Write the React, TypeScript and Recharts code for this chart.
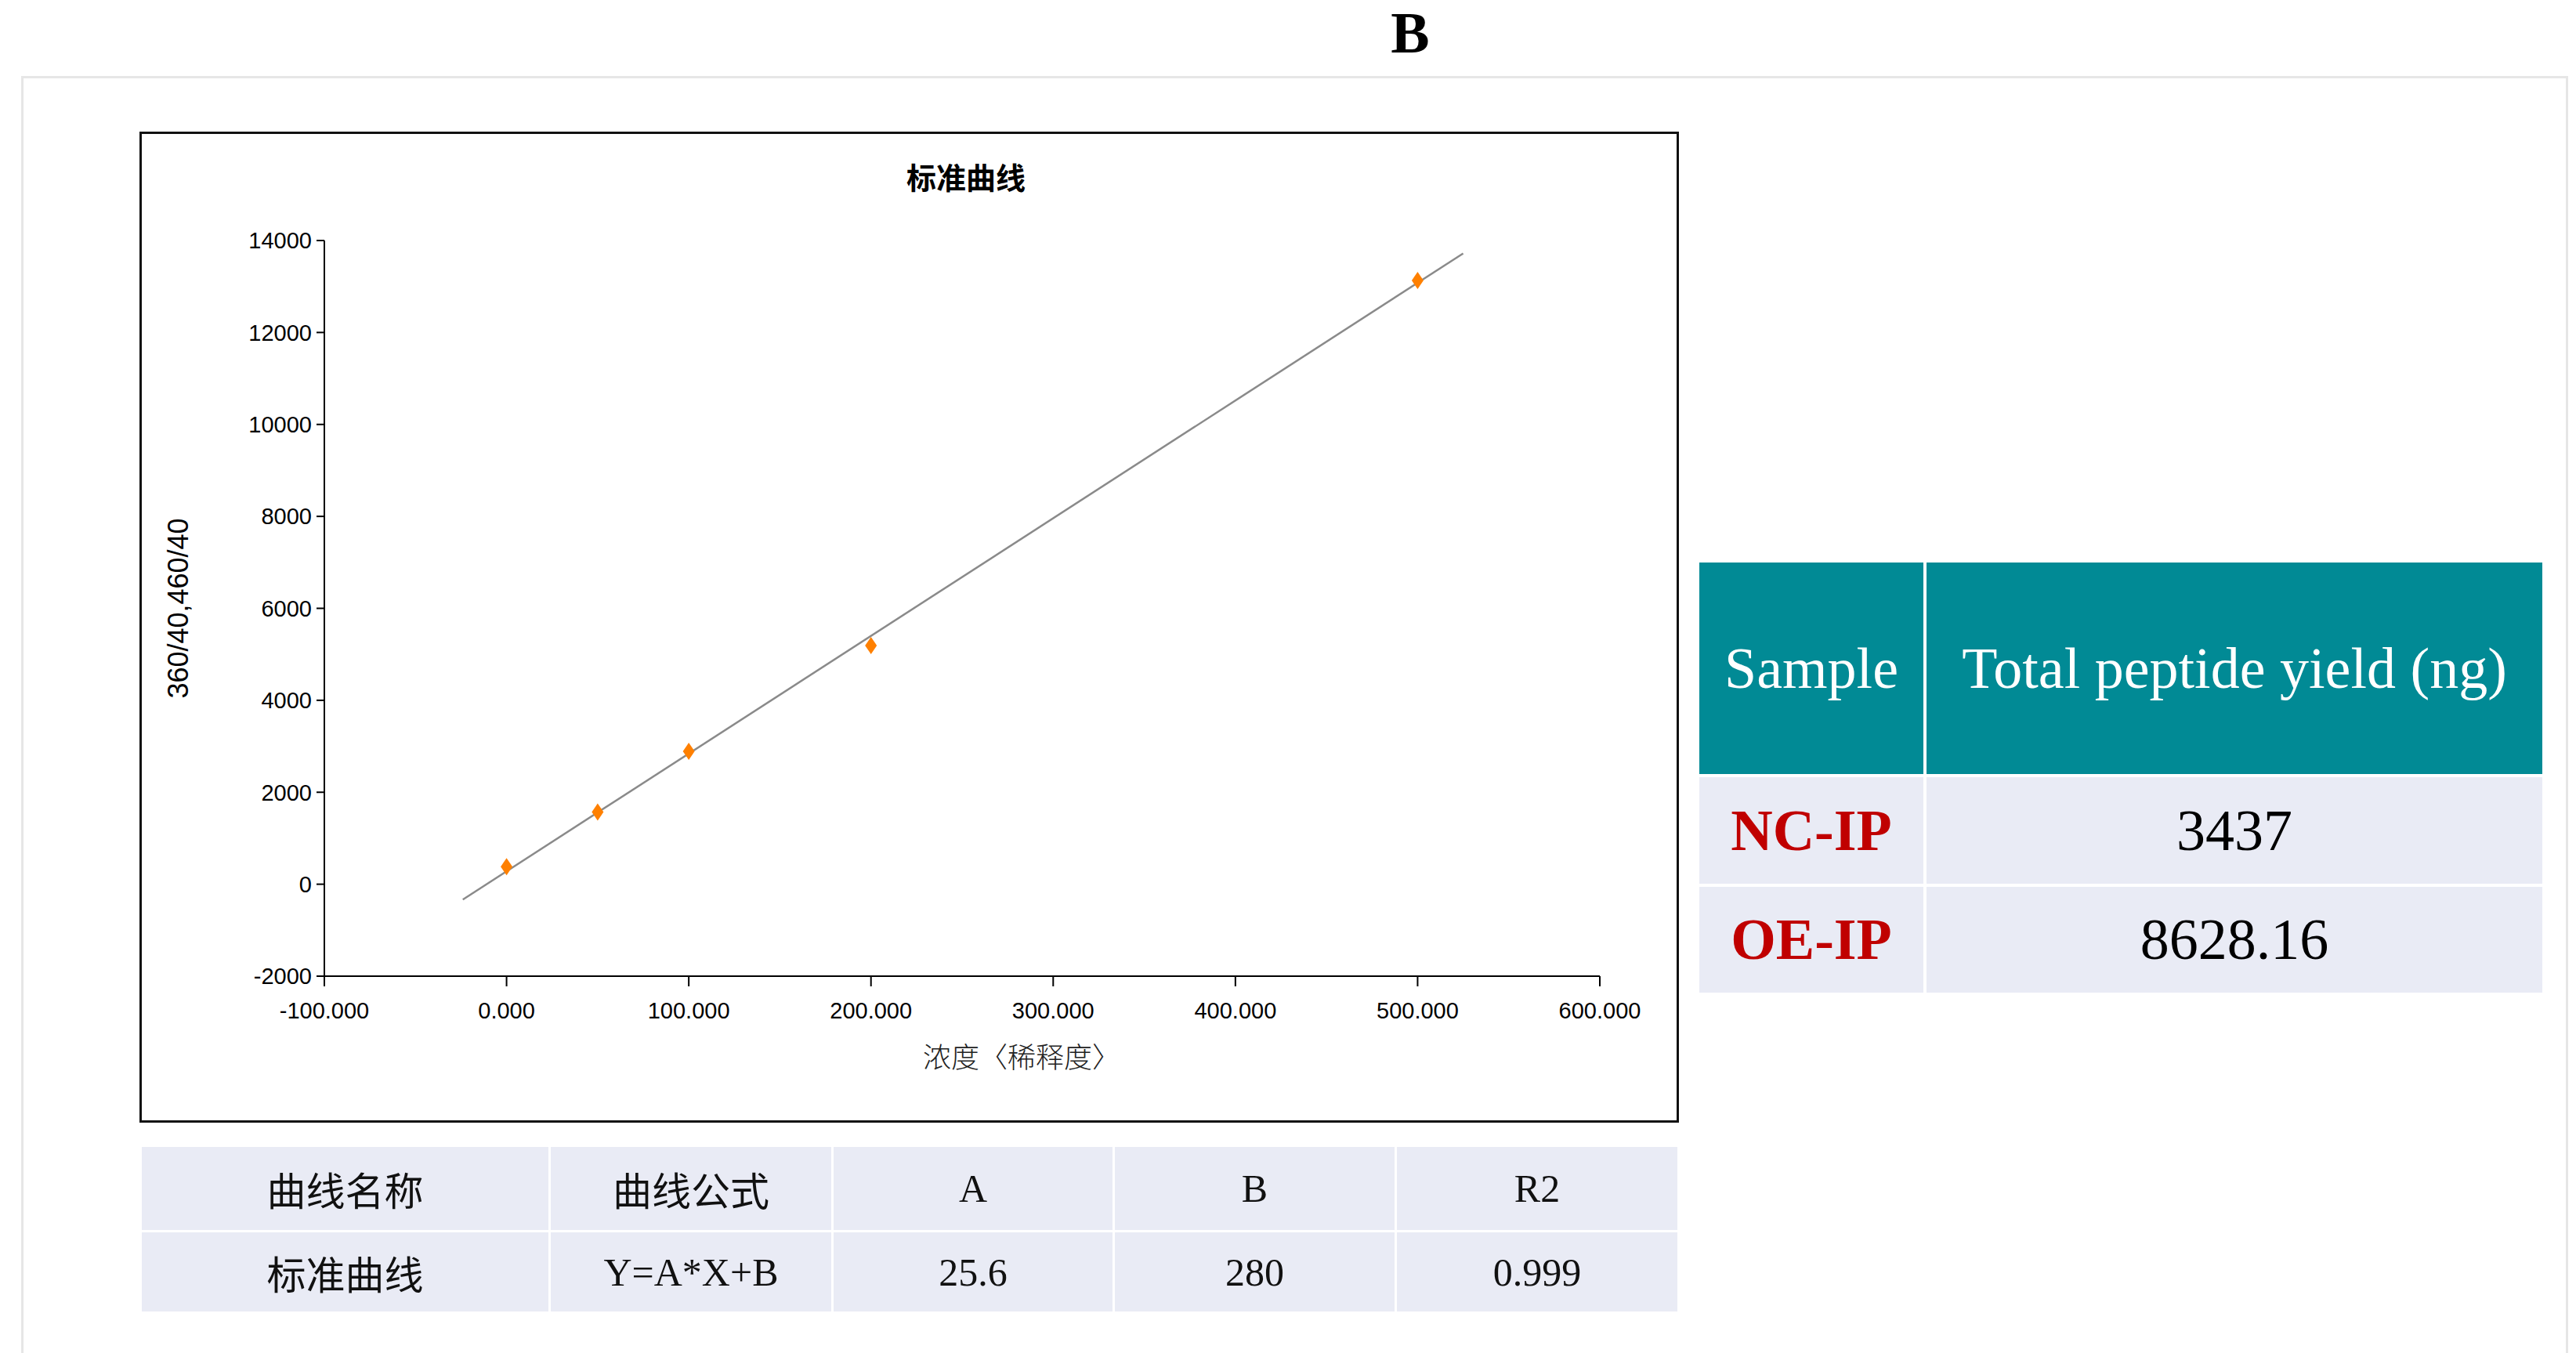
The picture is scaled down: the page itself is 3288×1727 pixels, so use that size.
import { ScatterChart, Scatter, XAxis, YAxis } from "recharts";

// standard points
const concX = [0, 50, 100, 200, 500];
const signalY = [380, 1570, 2890, 5190, 13130];

// fitted line ends (Y = 25.6 * X + 280)
const fitX = [-24, 525];
const fitY = [-334, 13720];

const xTicks = [-100, 0, 100, 200, 300, 400, 500, 600];
const yTicks = [-2000, 0, 2000, 4000, 6000, 8000, 10000, 12000, 14000];

const curveHead = ["曲线名称", "曲线公式", "A", "B", "R2"];
const curveRow = ["标准曲线", "Y=A*X+B", "25.6", "280", "0.999"];

const samples = ["NC-IP", "OE-IP"];
const yields = ["3437", "8628.16"];

const points = concX.map((x, i) => ({ x, y: signalY[i] }));
const fit = fitX.map((x, i) => ({ x, y: fitY[i] }));

const SANS = "'Liberation Sans', Arial, sans-serif";
const SERIF = "'Liberation Serif', 'Times New Roman', 'Noto Sans CJK SC', serif";
const CJK = "'Noto Sans CJK SC', sans-serif";

const NoDot = () => <g />;

const Diamond = (props: any) => {
  const { cx, cy } = props;
  return (
    <polygon
      points={`${cx},${cy - 11} ${cx + 7.5},${cy} ${cx},${cy + 11} ${cx - 7.5},${cy}`}
      fill="#ff8000"
    />
  );
};

const YLabel = (props: any) => {
  const vb = props.viewBox;
  const cx = vb.x + 49;
  const cy = vb.y + vb.height / 2;
  return (
    <text
      x={cx}
      y={cy}
      transform={`rotate(-90 ${cx} ${cy})`}
      textAnchor="middle"
      dominantBaseline="central"
      fontFamily={SANS}
      fontSize={36}
      fill="#000"
    >
      360/40,460/40
    </text>
  );
};

const XLabel = (props: any) => {
  const vb = props.viewBox;
  const x = vb.x + 890;
  const y = vb.y + 101;
  return (
    <text x={x} y={y} textAnchor="middle" dominantBaseline="central" fontFamily={CJK} fontSize={36} fontWeight={300} fill="#222">
      浓度〈稀释度〉
    </text>
  );
};

const cell = (bg: string) => ({
  background: bg,
  display: "flex",
  alignItems: "center",
  justifyContent: "center",
});

const App = () => {
  return (
    <div style={{ position: "absolute", left: 0, top: 0, width: 3288, height: 1727, background: "#fff", overflow: "hidden" }}>
      <div
        style={{
          position: "absolute",
          left: 1700,
          top: 0,
          width: 200,
          height: 84,
          textAlign: "center",
          lineHeight: "84px",
          fontFamily: SERIF,
          fontWeight: 700,
          fontSize: 74,
        }}
      >
        B
      </div>

      <div
        style={{
          position: "absolute",
          left: 27,
          top: 97,
          width: 3251,
          height: 1700,
          border: "3px solid #e6e6e6",
          boxSizing: "border-box",
        }}
      />

      <div style={{ position: "absolute", left: 178, top: 168, width: 1965, height: 1265, background: "#fff" }}>
        <div
          style={{
            position: "absolute",
            left: 0,
            top: 30,
            width: 2110,
            textAlign: "center",
            fontFamily: CJK,
            fontWeight: 700,
            fontSize: 38,
            lineHeight: "54px",
          }}
        >
          标准曲线
        </div>
        <ScatterChart width={1965} height={1265} margin={{ top: 139, right: 101, left: 0, bottom: 0 }}>
          <XAxis
            type="number"
            dataKey="x"
            domain={[-100, 600]}
            ticks={xTicks}
            interval={0}
            allowDataOverflow
            height={187}
            tickSize={13}
            tickMargin={20}
            tickFormatter={(v: number) => v.toFixed(3)}
            stroke="#000"
            strokeWidth={2}
            tick={{ fill: "#000", fontSize: 29, fontFamily: SANS }}
            label={<XLabel />}
          />
          <YAxis
            type="number"
            dataKey="y"
            domain={[-2000, 14000]}
            ticks={yTicks}
            interval={0}
            allowDataOverflow
            width={236}
            tickSize={10}
            tickMargin={6}
            stroke="#000"
            strokeWidth={2}
            tick={{ fill: "#000", fontSize: 29, fontFamily: SANS }}
            label={<YLabel />}
          />
          <Scatter
            data={fit}
            line={{ stroke: "#8a8a8a", strokeWidth: 2.5 }}
            shape={NoDot}
            isAnimationActive={false}
          />
          <Scatter data={points} shape={Diamond} fill="#ff8000" isAnimationActive={false} />
        </ScatterChart>
        <div
          style={{
            position: "absolute",
            left: 0,
            top: 0,
            width: 1965,
            height: 1265,
            border: "3px solid #111",
            boxSizing: "border-box",
            pointerEvents: "none",
          }}
        />
      </div>

      <div
        style={{
          position: "absolute",
          left: 181,
          top: 1464,
          width: 1960,
          height: 211,
          display: "grid",
          gridTemplateColumns: "519px 358px 356px 357px 358px",
          gridTemplateRows: "106px 101px",
          gap: 3,
          fontFamily: SERIF,
          fontSize: 50,
          color: "#111",
        }}
      >
        {curveHead.map((t) => (
          <div key={"h" + t} style={cell("#e9ebf5")}>
            {t}
          </div>
        ))}
        {curveRow.map((t) => (
          <div key={"r" + t} style={cell("#e9ebf5")}>
            {t}
          </div>
        ))}
      </div>

      <div
        style={{
          position: "absolute",
          left: 2169,
          top: 718,
          width: 1076,
          height: 549,
          display: "grid",
          gridTemplateColumns: "286px 786px",
          gridTemplateRows: "270px 136px 135px",
          gap: 4,
          fontFamily: SERIF,
          fontSize: 74,
        }}
      >
        <div style={{ ...cell("#018a95"), color: "#fff" }}>Sample</div>
        <div style={{ ...cell("#018a95"), color: "#fff" }}>Total peptide yield (ng)</div>
        {samples.map((s, i) => [
          <div key={"s" + s} style={{ ...cell("#e9ebf5"), color: "#c00000", fontWeight: 700 }}>
            {s}
          </div>,
          <div key={"v" + s} style={{ ...cell("#e9ebf5"), color: "#000" }}>
            {yields[i]}
          </div>,
        ])}
      </div>
    </div>
  );
};

export default App;
